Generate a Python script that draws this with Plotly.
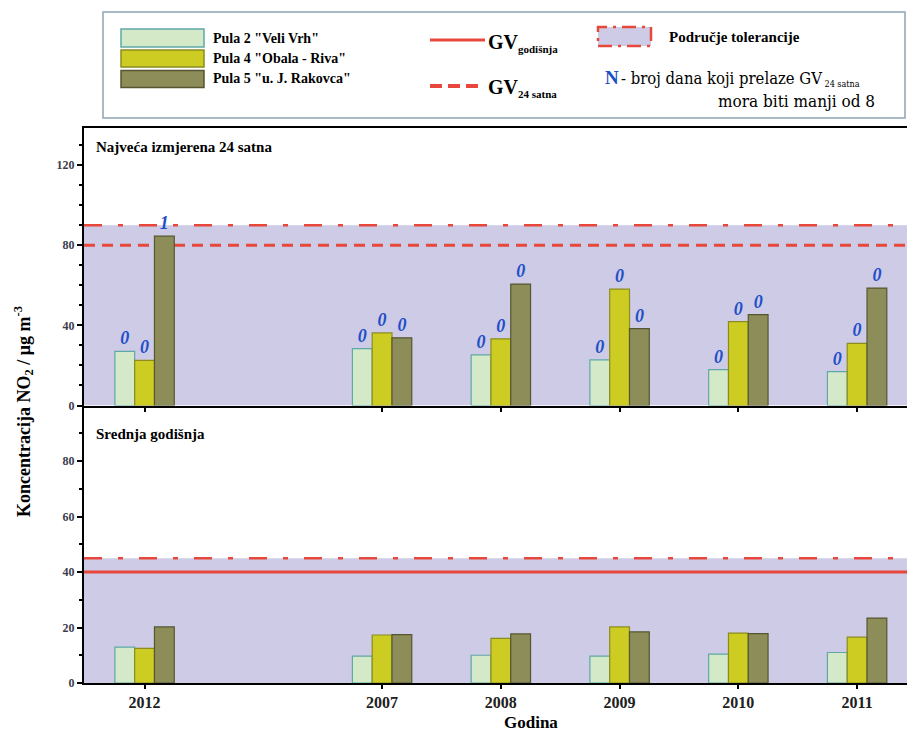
import plotly.graph_objects as go

# ---------------- data ----------------
years = ["2012", "2007", "2008", "2009", "2010", "2011"]
axis_categories = ["2012", " ", "2007", "2008", "2009", "2010", "2011"]
stations = ['Pula 2 "Veli Vrh"', 'Pula 4 "Obala - Riva"', 'Pula 5 "u. J. Rakovca"']

max24_pula2 = [27.0, 28.4, 25.3, 22.8, 17.9, 16.9]
max24_pula4 = [22.5, 36.2, 33.3, 58.1, 41.9, 31.0]
max24_pula5 = [84.5, 33.8, 60.6, 38.4, 45.4, 58.6]

n_pula2 = ["0", "0", "0", "0", "0", "0"]
n_pula4 = ["0", "0", "0", "0", "0", "0"]
n_pula5 = ["1", "0", "0", "0", "0", "0"]

annual_pula2 = [12.9, 9.7, 10.0, 9.7, 10.4, 11.0]
annual_pula4 = [12.5, 17.3, 16.1, 20.2, 18.0, 16.5]
annual_pula5 = [20.2, 17.4, 17.7, 18.4, 17.8, 23.4]

gv_24h = 80
tolerance_24h = 90
gv_year = 40
tolerance_year = 45

top_ticks = [0, 40, 80, 120]
bottom_ticks = [0, 20, 40, 60, 80]

legend_gv_year = 'GV<sub><span style="font-size:11px">godišnja</span></sub>'
legend_gv_24 = 'GV<sub><span style="font-size:11px">24 satna</span></sub>'
legend_tol = "Područje tolerancije"
legend_n1 = '- broj dana koji prelaze GV<sub><span style="font-size:9px"> 24 satna</span></sub>'
legend_n2 = "mora biti manji od 8"
panel_top = "Najveća izmjerena 24 satna"
panel_bottom = "Srednja godišnja"
y_title = "Koncentracija NO<sub>2</sub> / μg m<sup>-3</sup>"
x_title = "Godina"

# ---------------- styles ----------------
FILL = ["#D3E9C8", "#CCCC22", "#8D8D5A"]
EDGE = ["#5FA8A8", "#8C8C1E", "#55562F"]
LAV = "rgb(205,203,229)"
RED = "#E8473C"
SERIF = "Liberation Serif, Times New Roman, DejaVu Serif, serif"
SERIF_REG = "DejaVu Serif Condensed, DejaVu Serif, serif"
BLUE = "#1F4FC8"

L, R, T, B = 84, 907, 128, 683
W, H = R - L, B - T


def px(x):
    return (x - L) / W


def py(y):
    return (B - y) / H


fig = go.Figure()

top_series = [max24_pula2, max24_pula4, max24_pula5]
top_n = [n_pula2, n_pula4, n_pula5]
bottom_series = [annual_pula2, annual_pula4, annual_pula5]

for i in range(3):
    fig.add_trace(go.Bar(
        x=years, y=top_series[i], name=stations[i], xaxis="x2", yaxis="y2",
        marker=dict(color=FILL[i], line=dict(color=EDGE[i], width=1.2)),
        text=top_n[i], textposition="outside", cliponaxis=False,
        textfont=dict(family=SERIF, size=18, color=BLUE, style="italic", weight="bold"),
        showlegend=False, hoverinfo="skip",
    ))
for i in range(3):
    fig.add_trace(go.Bar(
        x=years, y=bottom_series[i], name=stations[i], xaxis="x", yaxis="y",
        marker=dict(color=FILL[i], line=dict(color=EDGE[i], width=1.2)),
        showlegend=False, hoverinfo="skip",
    ))

shapes = []
# tolerance areas and limit lines
shapes.append(dict(type="rect", xref="x2 domain", yref="y2", x0=0, x1=1, y0=0, y1=tolerance_24h,
                   fillcolor=LAV, line=dict(width=0), layer="below"))
shapes.append(dict(type="line", xref="x2 domain", yref="y2", x0=0, x1=1, y0=tolerance_24h, y1=tolerance_24h,
                   line=dict(color=RED, width=2.5, dash="18px,16px,5px,16px"), layer="below"))
shapes.append(dict(type="line", xref="x2 domain", yref="y2", x0=0, x1=1, y0=gv_24h, y1=gv_24h,
                   line=dict(color=RED, width=3, dash="11px,7px"), layer="below"))
shapes.append(dict(type="rect", xref="x domain", yref="y", x0=0, x1=1, y0=0, y1=tolerance_year,
                   fillcolor=LAV, line=dict(width=0), layer="below"))
shapes.append(dict(type="line", xref="x domain", yref="y", x0=0, x1=1, y0=tolerance_year, y1=tolerance_year,
                   line=dict(color=RED, width=2.5, dash="18px,16px,5px,16px"), layer="below"))
shapes.append(dict(type="line", xref="x domain", yref="y", x0=0, x1=1, y0=gv_year, y1=gv_year,
                   line=dict(color=RED, width=3), layer="below"))

# legend box
shapes.append(dict(type="rect", xref="paper", yref="paper", x0=px(103), x1=px(905), y0=py(118), y1=py(12),
                   line=dict(color="#8CA4B4", width=1.5), fillcolor="white"))
sw_y = [(29, 47), (50, 67), (70.5, 87.5)]
for i in range(3):
    shapes.append(dict(type="rect", xref="paper", yref="paper", x0=px(121), x1=px(204),
                       y0=py(sw_y[i][1]), y1=py(sw_y[i][0]),
                       fillcolor=FILL[i], line=dict(color=EDGE[i], width=1.5)))
shapes.append(dict(type="line", xref="paper", yref="paper", x0=px(430), x1=px(485), y0=py(40), y1=py(40),
                   line=dict(color=RED, width=3)))
shapes.append(dict(type="line", xref="paper", yref="paper", x0=px(430), x1=px(478), y0=py(86), y1=py(86),
                   line=dict(color=RED, width=4, dash="12px,6px")))
shapes.append(dict(type="rect", xref="paper", yref="paper", x0=px(598), x1=px(651), y0=py(46), y1=py(27),
                   fillcolor=LAV, line=dict(color=RED, width=2.5, dash="14px,6px,3px,6px")))

annotations = []


def ann(text, x, y, size, xanchor="left", bold=True, color="black", family=SERIF, **kw):
    annotations.append(dict(text=text, x=px(x), y=py(y), xref="paper", yref="paper",
                            xanchor=xanchor, yanchor="middle", showarrow=False,
                            font=dict(family=family, size=size, color=color,
                                      weight=700 if bold else 400), **kw))


for i, yy in enumerate([38.5, 58.5, 78.5]):
    ann(stations[i], 211, yy, 14)
ann(legend_gv_year, 486, 43, 20)
ann(legend_gv_24, 486, 88, 20)
ann(legend_tol, 667, 37, 15)
ann("N", 603, 77, 19, color=BLUE)
ann(legend_n1, 619, 79, 16.5, bold=False, family=SERIF_REG)
ann(legend_n2, 877, 101, 17, xanchor="right", bold=False, family=SERIF_REG)
ann(panel_top, 94, 147, 15)
ann(panel_bottom, 94, 434, 15)
ann(x_title, 502, 722, 17)
ann(y_title, 23, 412, 18, xanchor="center", textangle=-90)

ytickfont = dict(family=SERIF, size=12, color="#3C3C4C", weight="bold")
xtickfont = dict(family=SERIF, size=16, color="#202020", weight="bold")

fig.update_layout(
    width=907, height=731,
    margin=dict(l=L, r=0, t=T, b=731 - B),
    paper_bgcolor="white", plot_bgcolor="white",
    barmode="group", bargap=0.5, bargroupgap=0,
    shapes=shapes, annotations=annotations,
    xaxis=dict(type="category", categoryorder="array", categoryarray=axis_categories,
               range=[-0.51, 6.42], anchor="y", domain=[0, 1],
               tickvals=years, ticktext=years, ticks="outside", ticklen=4, tickwidth=2,
               tickcolor="black", showline=True, linecolor="black", linewidth=2,
               showgrid=False, zeroline=False, tickfont=xtickfont),
    xaxis2=dict(type="category", categoryorder="array", categoryarray=axis_categories,
                range=[-0.51, 6.42], anchor="y2", domain=[0, 1], matches="x",
                tickvals=years, ticks="outside", ticklen=4, tickwidth=2, tickcolor="black",
                showticklabels=False, showline=True, mirror=True, linecolor="black", linewidth=2,
                showgrid=False, zeroline=False),
    yaxis=dict(domain=[0, 0.5], range=[0, 100], tickvals=bottom_ticks, ticks="outside",
               ticklen=5, tickwidth=1.5, tickcolor="black", showline=True, linecolor="black",
               linewidth=2, showgrid=False, zeroline=False, tickfont=ytickfont,
               minor=dict(dtick=10, ticks="outside", ticklen=3, tickcolor="black")),
    yaxis2=dict(domain=[0.5, 1], range=[0, 138.5], tickvals=top_ticks, ticks="outside",
                ticklen=5, tickwidth=1.5, tickcolor="black", showline=True, linecolor="black",
                linewidth=2, showgrid=False, zeroline=False, tickfont=ytickfont,
                minor=dict(dtick=10, ticks="outside", ticklen=3, tickcolor="black")),
)

fig.write_html("out.html", config={"displayModeBar": False},
               post_script="document.body.style.margin='0';")
